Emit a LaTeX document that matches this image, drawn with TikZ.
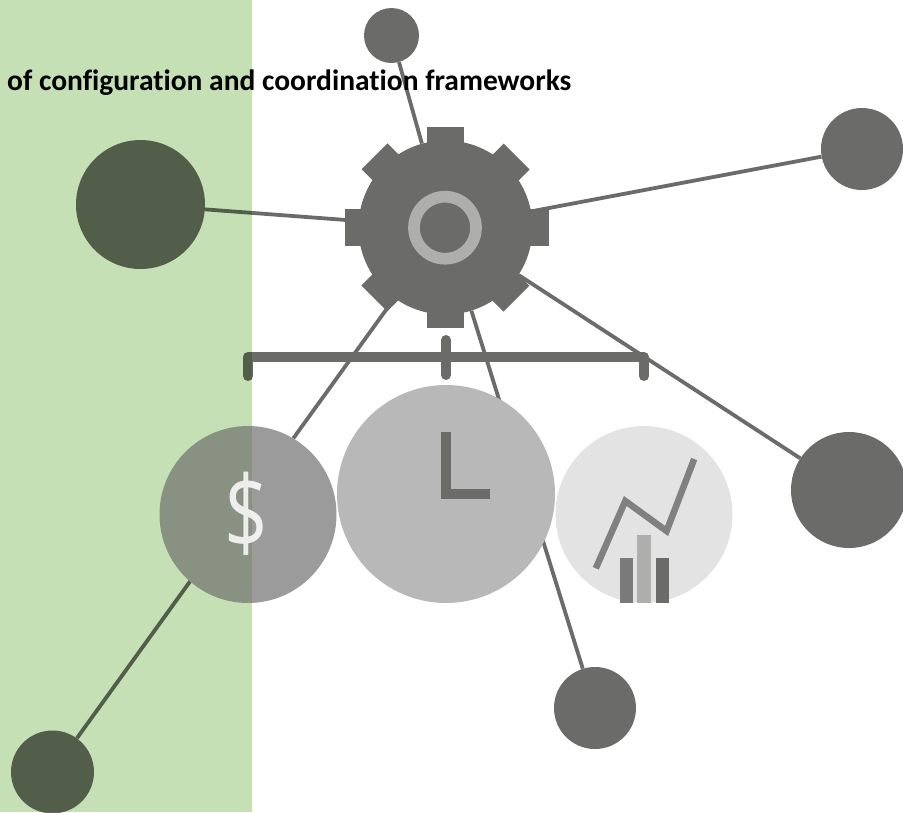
\documentclass[tikz,border=0pt]{standalone}
\usepackage{fontspec}
\setmainfont[Ligatures=NoCommon]{Carlito}
\newfontfamily\signfont{Open Sans}
\usepackage{xcolor}
\usetikzlibrary{positioning, backgrounds}
\definecolor{slate}{HTML}{6B6B6A}
\definecolor{leaf}{HTML}{C5E0B4}
\tikzstyle{satellite} = [circle, inner sep=0pt, fill=slate]
\tikzstyle{disc} = [circle, inner sep=0pt]
\tikzstyle{spoke} = [line width=3.8pt, draw=slate]
\tikzstyle{bracket} = [line width=10pt, draw=slate, line cap=round, line join=round]

\begin{document}
\begin{tikzpicture}[x=1pt, y=-1pt]
        \useasboundingbox (0,0) rectangle (903,812);

        % Gear and outer circles
        \node (gear) [disc, fill=slate, minimum size=174pt] at (445.5,227.5) {};
        \node (left) [satellite, minimum size=129pt] at (140.5,204.5) {};
        \node (top) [satellite, minimum size=55pt] at (391.5,35.5) {};
        \node (topright) [satellite, minimum size=82pt] at (862,149) {};
        \node (right) [satellite, minimum size=116pt] at (849,490) {};
        \node (bottom) [satellite, minimum size=82pt] at (595,708) {};
        \node (bottomleft) [satellite, minimum size=83pt] at (52.5,772) {};

        % Spokes
        \foreach \name in {left, top, topright, right, bottom, bottomleft}
            \draw [spoke] (gear) -- (\name);

        % Gear teeth
        \foreach \a in {0,45,...,315}
            \fill [slate, rotate around={\a:(gear.center)}] (427.3,227.5) rectangle (464,127);
        \fill [slate] (530,209.3) rectangle (549.3,246);
        \node (hub) [disc, draw=slate!55!white, line width=11.7pt, minimum size=62pt] at (445,227.7) {};

        % Bracket
        \coordinate (barleft) at (248,357);
        \coordinate (barright) at (644,357);
        \draw [bracket] (248,376) -- (barleft) -- (barright) -- (644,376);
        \draw [bracket] (446,340) -- (446,375);

        % Circles under the bracket
        \node (dollar) [disc, fill=white, minimum size=177pt] at (248,514.5) {};
        \node (clock) [disc, fill=black!28, minimum size=218pt] at (446,494) {};
        \node (chart) [disc, fill=black!11, minimum size=177pt] at (644,514.5) {};

        % Green band
        \fill [leaf, blend mode=multiply] (0,0) rectangle (252,812);
        \fill [slate, opacity=0.67] (dollar.center) circle (88.5);
        \node (sign) [text=white, opacity=0.85, inner sep=0pt, font=\signfont\fontsize{102}{104}\selectfont] at (246.3,513.4) {\scalebox{0.75}[1]{\$}};

        % Title
        \node (title) [anchor=base west, inner sep=0pt, font=\fontsize{29.5}{32}\selectfont\bfseries] at (7,90) {of configuration and coordination frameworks};

        % Clock hands
        \draw [line width=10.3pt, draw=slate] (446,432) -- (446,494.3) -- (489.5,494.3);

        % Chart
        \draw [line width=6.5pt, draw=black!50] (595.8,568.3) -- (625.3,501) -- (666.6,531) -- (694.2,459);
        \fill [black!52] (619.6,557.7) rectangle (633,602.7);
        \fill [slate!55!white] (637,535) rectangle (650.6,602.7);
        \fill [slate] (655.5,557.7) rectangle (669.3,602.7);
    \end{tikzpicture}
\end{document}
